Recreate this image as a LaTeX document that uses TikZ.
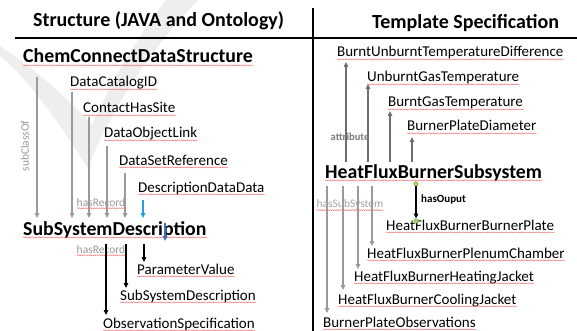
\documentclass[tikz,border=0pt]{standalone}
\usepackage{fontspec}
\setmainfont{Carlito}
\usetikzlibrary{arrows.meta,decorations.pathmorphing}

\definecolor{wm}{HTML}{EEEEEE}
\definecolor{lgray}{HTML}{9A9A9A}
\definecolor{dgray}{HTML}{6E6E6E}
\definecolor{skyblue}{HTML}{1EA0E6}
\definecolor{deepblue}{HTML}{3A6FC8}
\definecolor{dotgreen}{HTML}{9BD36A}
\definecolor{squigred}{HTML}{F07070}

\tikzset{
  x=1pt, y=-1pt,
  lbl/.style={anchor=base west, inner sep=0pt, font=\fontsize{15}{15}\selectfont},
  big/.style={anchor=base west, inner sep=0pt, font=\fontsize{19.8}{20}\selectfont\bfseries},
  heading/.style={anchor=base west, inner sep=0pt, font=\fontsize{20}{20}\selectfont\bfseries},
  tag/.style={inner sep=0pt, font=\fontsize{11.5}{12}\selectfont, text=lgray},
  rule/.style={line width=1.4pt, black},
  gline/.style={line width=1.3pt, lgray, -{Triangle[length=5pt,width=4.5pt]}},
  dline/.style={line width=1.4pt, dgray, -{Triangle[length=5pt,width=4.5pt]}},
  kline/.style={line width=1.4pt, black, -{Triangle[length=5pt,width=4.5pt]}},
  squig/.style={draw=squigred, line width=0.4pt,
    decorate, decoration={snake, segment length=2.2pt, amplitude=0.55pt}},
  gdot/.style={circle, fill=dotgreen, draw=dotgreen!70!black, line width=0.2pt,
    inner sep=0pt, minimum size=4.6pt},
}
% wavy spell-check mark under a text node
\newcommand{\wavy}[1]{\draw[squig] ([yshift=-2.4pt]#1.base west) -- ([yshift=-2.4pt]#1.base east);}

\begin{document}
\begin{tikzpicture}
\useasboundingbox (0,0) rectangle (577,331);
\fill[white] (0,0) rectangle (577,331);

% faint check-mark logo in the background
\fill[wm] (0,56) .. controls (30,80) and (60,125) .. (88,168)
  .. controls (110,110) and (150,50) .. (198,0) -- (166,0)
  .. controls (135,40) and (110,85) .. (92,125)
  .. controls (65,95) and (35,70) .. (0,46) -- cycle;

% frame lines
\draw[rule] (15,38) -- (577,38);
\draw[rule] (313,8) -- (313,331);

% headings
\node[heading] (h1) at (33,27) {Structure (JAVA and Ontology)};
\node[heading] (h2) at (372,29) {Template Specification};

% ---------- left column ----------
\node[big] (ccds) at (23,63) {ChemConnectDataStructure};
\node[lbl] (dcid) at (70,87) {DataCatalogID};
\node[lbl] (chs)  at (83,113) {ContactHasSite};
\node[lbl] (dol)  at (104,138) {DataObjectLink};
\node[lbl] (dsr)  at (119,165) {DataSetReference};
\node[lbl] (ddd)  at (138,192) {DescriptionDataData};
\node[big] (ssd)  at (23,235) {SubSystemDescription};
\node[lbl] (pv)   at (137,274) {ParameterValue};
\node[lbl] (ssd2) at (120,300) {SubSystemDescription};
\node[lbl] (obs)  at (103,328) {ObservationSpecification};
\foreach \n in {ccds,dcid,chs,dol,dsr,ddd,ssd,pv,ssd2,obs} {\wavy{\n}}

\coordinate (a1s) at (37,77);  \coordinate (a1e) at (37,218);
\coordinate (a2s) at (72,92);  \coordinate (a2e) at (72,218);
\coordinate (a3s) at (89,117); \coordinate (a3e) at (89,218);
\coordinate (a4s) at (107,146);\coordinate (a4e) at (107,218);
\coordinate (a5s) at (125,173);\coordinate (a5e) at (125,218);
\draw[gline] (a1s) -- (a1e);
\draw[gline] (a2s) -- (a2e);
\draw[gline] (a3s) -- (a3e);
\draw[gline] (a4s) -- (a4e);
\draw[gline] (a5s) -- (a5e);
\draw[line width=1.3pt, skyblue, -{Triangle[length=5pt,width=4.5pt]}] (143,200) -- (143,218);
\draw[line width=1.3pt, deepblue, -{Triangle[length=5pt,width=4.5pt]}] (165,223) -- (165,241);

\node[tag, rotate=90] (sco) at (25,146) {subClassOf};
\node[tag] (hr1) at (101,203) {hasRecord};
\node[tag] (hr2) at (101,250) {hasRecord};
\draw[squig] ([yshift=-1pt]hr1.south west) -- ([yshift=-1pt]hr1.south east);
\draw[squig] ([yshift=-1pt]hr2.south west) -- ([yshift=-1pt]hr2.south east);

\draw[kline] (106,244) -- (106,315);
\draw[kline] (126,244) -- (126,288);
\draw[kline] (144,244) -- (144,262);

% ---------- right column ----------
\node[lbl] (butd) at (337,57)  {BurntUnburntTemperatureDifference};
\node[lbl] (ugt)  at (367,82)  {UnburntGasTemperature};
\node[lbl] (bgt)  at (388,107) {BurntGasTemperature};
\node[lbl] (bpd)  at (407,131) {BurnerPlateDiameter};
\node[big] (hfbs) at (325,178) {HeatFluxBurnerSubsystem};
\node[lbl] (bp)   at (386,230) {HeatFluxBurnerBurnerPlate};
\node[lbl] (pc)   at (367,258) {HeatFluxBurnerPlenumChamber};
\node[lbl] (hj)   at (354,281) {HeatFluxBurnerHeatingJacket};
\node[lbl] (cj)   at (338,304) {HeatFluxBurnerCoolingJacket};
\node[lbl] (bpo)  at (323,327) {BurnerPlateObservations};
\foreach \n in {butd,ugt,bgt,bpd,hfbs,bp,pc,hj,cj,bpo} {\wavy{\n}}

\draw[dline] (346,162) -- (346,62);
\draw[dline] (368,162) -- (368,84);
\draw[dline] (390,162) -- (390,111);
\draw[dline] (412,162) -- (412,137);
\node[tag, font=\fontsize{10.6}{11}\selectfont\bfseries, text=dgray!90] (attr) at (350,137) {attribute};

\draw[gline] (327,186) -- (327,313);
\draw[gline] (343,186) -- (343,290);
\draw[gline] (358,186) -- (358,269);
\draw[gline] (372,186) -- (372,246);
\node[tag, text=lgray!90] (hss) at (350,204) {hasSubSystem};
\draw[squig] ([yshift=-1pt]hss.south west) -- ([yshift=-1pt]hss.south east);

\node[gdot] (d1) at (416,184) {};
\node[gdot] (d2) at (416,221) {};
\draw[kline] (d1) -- (d2);
\node[tag, anchor=west, text=black, font=\fontsize{11}{11}\selectfont\bfseries] (hout) at (421,200) {hasOuput};
\end{tikzpicture}
\end{document}
